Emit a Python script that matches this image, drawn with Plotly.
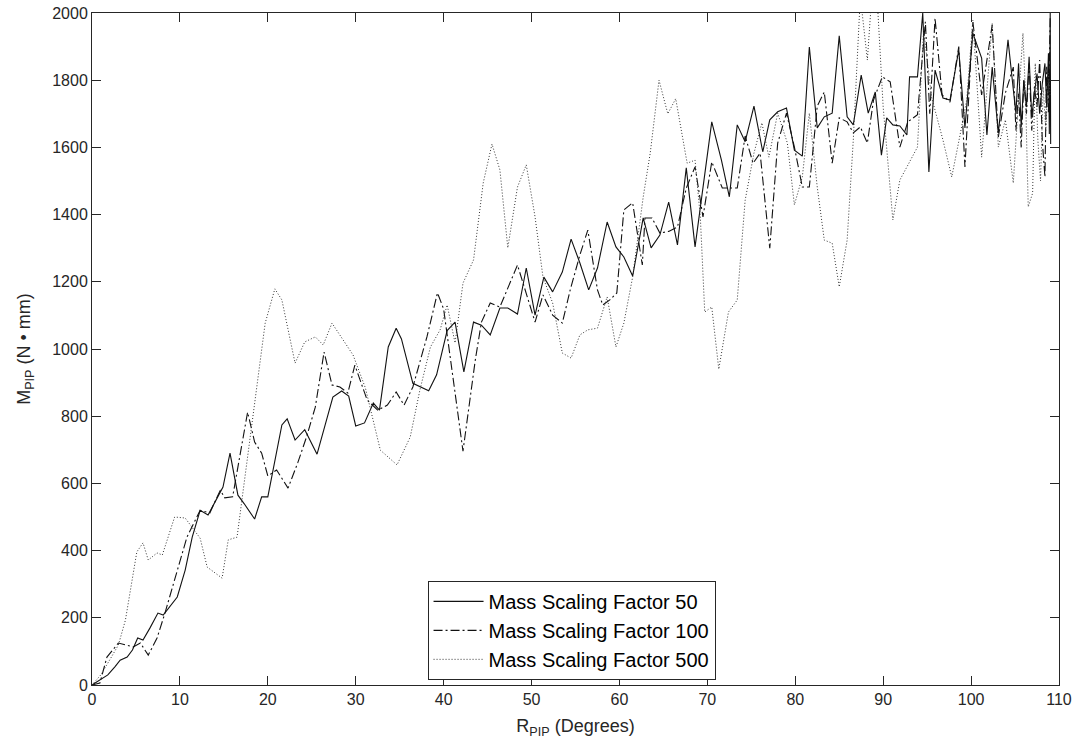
import plotly.graph_objects as go

# ---- data ----
x50 = [0, 0.9, 1.8, 2.6, 3.2, 4.0, 4.6, 5.2, 5.8, 6.6, 7.5, 8.1, 9.2, 9.7, 10.6, 11.4, 12.3, 13.2, 14.0, 14.9,
       15.7, 16.6, 17.3, 18.5, 19.3, 20.0, 21.6, 22.2, 23.1, 24.2, 25.6, 27.4, 28.4, 29.2, 30.0, 31.0, 32.0, 32.7,
       33.7, 34.6, 35.2, 36.5, 38.3, 39.2, 40.4, 41.3, 42.3, 43.4, 44.3, 45.3, 46.4, 47.3, 48.4, 49.4, 50.4, 51.4,
       52.4, 53.5, 54.5, 55.5, 56.5, 57.5, 58.6, 59.6, 60.5, 61.5, 62.7, 63.6, 64.6, 65.6, 66.6, 67.6, 68.6, 70.5,
       71.6, 72.5, 73.4, 74.3, 75.3, 76.3, 77.1, 78.0, 79.0, 79.9, 80.8, 81.6, 82.5, 83.3, 84.2, 85.0, 85.9, 86.6,
       87.5, 88.3, 89.1, 89.8, 90.4, 91.1, 91.9, 92.7, 93.0, 93.9, 94.5, 95.2, 95.9, 96.8, 97.6, 98.6, 99.3, 100.2,
       101.2, 101.8, 102.4, 103.1, 104.2, 104.8, 105.1, 105.4, 105.7, 106.0, 106.3, 106.6, 106.9, 107.2, 107.5,
       107.8, 108.1, 108.4, 108.6, 108.8, 108.9, 109.0, 109.05]
y50 = [0, 15, 30, 54, 74, 83, 104, 140, 134, 170, 214, 208, 247, 262, 342, 440, 520, 506, 545, 589,
       690, 565, 540, 494, 560, 560, 774, 792, 729, 760, 687, 857, 875, 860, 771, 780, 839, 818,
       1006, 1062, 1030, 898, 876, 923, 1055, 1080, 932, 1080, 1071, 1042, 1122, 1122, 1104, 1241, 1101, 1214,
       1170, 1229, 1327, 1256, 1176, 1241, 1378, 1304, 1274, 1217, 1390, 1301, 1339, 1437, 1310, 1539, 1304, 1676,
       1562, 1453, 1667, 1617, 1723, 1587, 1682, 1706, 1717, 1592, 1574, 1899, 1658, 1691, 1702, 1932, 1691, 1667,
       1815, 1702, 1765, 1577, 1688, 1667, 1664, 1637, 1810, 1810, 2000, 1527, 1830, 1747, 1741, 1890, 1658, 1940,
       1866, 1637, 1839, 1643, 1920, 1780, 1700, 1850, 1660, 1800, 1720, 1870, 1690, 1760, 1820,
       1700, 1790, 1850, 1720, 1880, 1640, 2000, 1610]

x100 = [0, 0.9, 1.7, 3.0, 4.7, 5.5, 6.4, 7.4, 8.3, 9.4, 10.8, 12.3, 13.4, 14.6, 15.1, 16.0, 17.7, 18.5, 19.3,
        20.0, 21.0, 22.3, 23.4, 24.4, 25.4, 26.4, 27.3, 28.2, 29.1, 29.9, 31.3, 32.5, 33.6, 34.6, 35.5, 36.5,
        38.1, 39.3, 40.0, 41.1, 42.2, 43.6, 44.3, 45.3, 46.4, 48.4, 49.4, 50.4, 51.3, 52.4, 53.5, 54.4, 55.5,
        56.4, 57.5, 58.1, 58.9, 59.7, 60.5, 61.5, 62.6, 62.9, 63.7, 64.6, 65.6, 66.6, 67.6, 68.6, 69.5, 70.5,
        71.7, 72.5, 73.4, 74.3, 75.2, 76.0, 77.1, 78.0, 79.0, 79.9, 80.8, 81.6, 82.5, 83.3, 84.2, 85.0, 85.9,
        86.6, 87.4, 88.2, 88.9, 89.9, 90.8, 91.9, 92.8, 93.9, 94.8, 95.3, 95.9, 96.7, 97.6, 98.6, 99.3, 100.2,
        101.2, 102.4, 103.1, 103.9, 104.8, 105.1, 105.4, 105.7, 106.0, 106.3, 106.6, 106.9, 107.2, 107.5,
        107.8, 108.1, 108.4, 108.6, 108.8, 109.0]
y100 = [0, 6, 83, 125, 113, 125, 89, 140, 214, 312, 440, 520, 512, 580, 557, 560, 812, 723, 690,
        622, 640, 586, 661, 738, 827, 991, 893, 887, 869, 952, 848, 818, 833, 872, 833, 887,
        1036, 1167, 1119, 908, 696, 967, 1080, 1137, 1125, 1250, 1167, 1080, 1161, 1101, 1077, 1176, 1280,
        1354, 1176, 1131, 1146, 1167, 1414, 1435, 1250, 1390, 1390, 1345, 1350, 1363, 1479, 1542, 1393, 1557,
        1479, 1479, 1479, 1634, 1553, 1583, 1300, 1613, 1702, 1601, 1482, 1482, 1723, 1765, 1553, 1688, 1676,
        1643, 1661, 1613, 1741, 1810, 1795, 1601, 1676, 1697, 1974, 1700, 1985, 1756, 1735, 1900, 1542, 1974,
        1756, 1964, 1631, 1762, 1839, 1650, 1760, 1600, 1800, 1700, 1850, 1650, 1780, 1720,
        1860, 1620, 1512, 1840, 1700, 1990]

x500 = [0, 1.0, 2.0, 3.0, 3.8, 5.1, 5.8, 6.4, 7.4, 8.0, 9.4, 10.6, 12.3, 13.1, 14.8, 15.5, 16.5, 17.6, 18.8,
        19.7, 20.8, 21.6, 23.1, 24.2, 25.4, 26.3, 27.3, 28.6, 29.7, 31.1, 32.8, 34.7, 36.2, 37.3, 38.5, 39.6,
        40.4, 41.3, 42.2, 43.4, 44.5, 45.5, 46.4, 47.3, 48.4, 49.4, 50.4, 51.3, 52.4, 53.5, 54.5, 55.5, 56.4,
        57.5, 58.6, 59.6, 60.5, 61.5, 62.7, 63.5, 64.5, 65.5, 66.4, 67.7, 68.6, 69.2, 69.7, 70.5, 71.3, 72.4,
        73.4, 74.3, 75.3, 76.2, 77.0, 78.0, 79.1, 79.9, 80.8, 81.6, 82.5, 83.3, 84.2, 85.0, 85.9, 86.6, 87.4,
        88.2, 88.7, 89.3, 90.0, 91.1, 91.9, 92.7, 93.9, 94.6, 95.5, 96.8, 97.8, 98.7, 99.5, 100.2, 101.2, 102.4,
        103.1, 103.9, 104.8, 105.3, 105.9, 106.2, 106.5, 107.0, 107.3, 107.6, 107.9, 108.2, 108.5, 108.8, 109.0]
y500 = [0, 30, 74, 119, 193, 396, 423, 372, 393, 387, 500, 497, 437, 351, 318, 432, 440, 661, 899,
        1077, 1179, 1146, 958, 1021, 1036, 1012, 1077, 1027, 982, 884, 699, 655, 738, 878, 1006, 1057,
        1131, 1018, 1196, 1265, 1494, 1610, 1533, 1301, 1482, 1548, 1393, 1214, 1137, 988, 973, 1042, 1057,
        1062, 1155, 1006, 1077, 1214, 1452, 1583, 1800, 1700, 1745, 1553, 1562, 1393, 1110, 1125, 940, 1110,
        1146, 1443, 1583, 1673, 1571, 1702, 1613, 1429, 1512, 1702, 1482, 1324, 1315, 1185, 1324, 1622, 2050,
        1860, 2050, 2050, 1720, 1384, 1503, 1542, 1601, 1950, 1750, 1622, 1512, 1631, 1741, 1979, 1571, 1970,
        1601, 1682, 1494, 1700, 1940, 1750, 1423, 1464, 1850, 1620, 1500, 1780, 1650, 1820, 1750]

names = ["Mass Scaling Factor 50", "Mass Scaling Factor 100", "Mass Scaling Factor 500"]
x_ticks = [0, 10, 20, 30, 40, 50, 60, 70, 80, 90, 100, 110]
y_ticks = [0, 200, 400, 600, 800, 1000, 1200, 1400, 1600, 1800, 2000]

FONT = "Liberation Sans, Arial, Helvetica, sans-serif"
AX = "#262626"

fig = go.Figure()
fig.add_trace(go.Scatter(x=x50, y=y50, mode="lines", name=names[0],
                         line=dict(color="#111111", width=1.1, dash="solid")))
fig.add_trace(go.Scatter(x=x100, y=y100, mode="lines", name=names[1],
                         line=dict(color="#111111", width=1.1, dash="9px,3px,2px,3px")))
fig.add_trace(go.Scatter(x=x500, y=y500, mode="lines", name=names[2],
                         line=dict(color="#333333", width=1.0, dash="1px,2px")))

axis_common = dict(
    showgrid=False, zeroline=False, showline=True, linecolor=AX, linewidth=1,
    mirror="ticks", ticks="inside", ticklen=9, tickcolor=AX, tickwidth=1,
    tickfont=dict(family=FONT, size=16, color=AX), automargin=False,
)

fig.update_layout(
    template="none",
    width=1076, height=750,
    margin=dict(l=92, r=17, t=13, b=65, pad=0, autoexpand=False),
    paper_bgcolor="white", plot_bgcolor="white",
    font=dict(family=FONT, color=AX),
    xaxis=dict(range=[0, 110], tickvals=x_ticks, **axis_common,
               title=dict(text="R<sub>PIP</sub> (Degrees)", font=dict(family=FONT, size=18, color=AX), standoff=12)),
    yaxis=dict(range=[0, 2000], tickvals=y_ticks, **axis_common,
               title=dict(text="M<sub>PIP</sub> (N \u2022 mm)", font=dict(family=FONT, size=18, color=AX), standoff=16)),
    legend=dict(x=0.347, y=0.155, xanchor="left", yanchor="top",
                bgcolor="white", bordercolor=AX, borderwidth=1,
                font=dict(family=FONT, size=20, color="#000000"),
                itemwidth=50, tracegroupgap=0),
    showlegend=True,
)

fig.write_html("out.html")
